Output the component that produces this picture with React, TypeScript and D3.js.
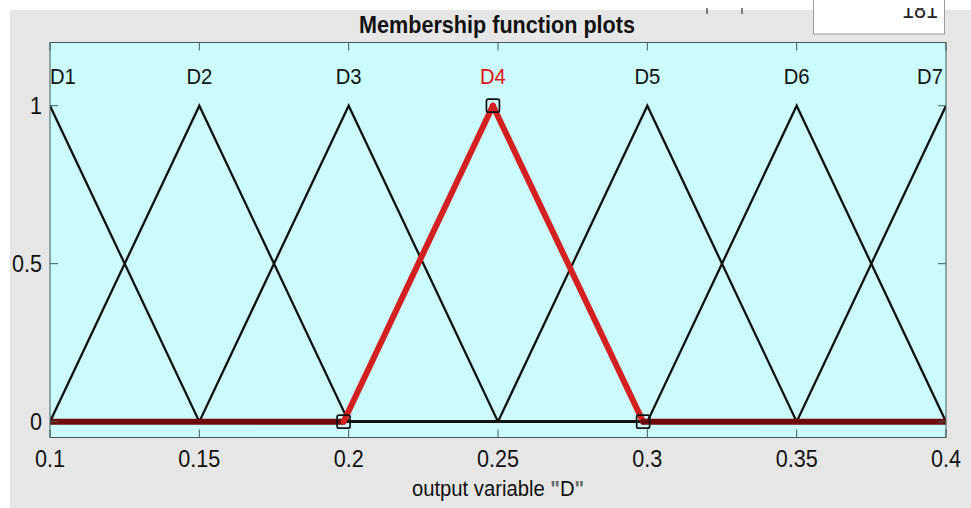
import React from "react";
import * as d3 from "d3";

// Output variable "D": seven triangular membership functions [a, b, c]
const mfNames = ["D1", "D2", "D3", "D4", "D5", "D6", "D7"];
const mfParams: number[][] = [
  [0.05, 0.1, 0.15],
  [0.1, 0.15, 0.2],
  [0.15, 0.2, 0.25],
  [0.1983, 0.2483, 0.2986],
  [0.25, 0.3, 0.35],
  [0.3, 0.35, 0.4],
  [0.35, 0.4, 0.45],
];
const selectedIndex = 3;

const xRange = [0.1, 0.4];
const yRange = [-0.05, 1.2];
const xTicks = [0.1, 0.15, 0.2, 0.25, 0.3, 0.35, 0.4];
const xTickLabels = ["0.1", "0.15", "0.2", "0.25", "0.3", "0.35", "0.4"];
const yTicks = [0, 0.5, 1];
const yTickLabels = ["0", "0.5", "1"];

const W = 971;
const H = 508;
const plot = { left: 50, right: 946, top: 42.5, bottom: 437.5 };

const FONT = "'Liberation Sans', Arial, Helvetica, sans-serif";
const AXIS_COLOR = "#3d5c5c";
const SQUEEZE = 0.9; // slightly condensed text, like the GUI font

function trimf(x: number, [a, b, c]: number[]) {
  if (x <= a || x >= c) return 0;
  if (x <= b) return b === a ? 1 : (x - a) / (b - a);
  return c === b ? 1 : (c - x) / (c - b);
}

function mfPoints(p: number[]): [number, number][] {
  const xs = [xRange[0], ...p, xRange[1]]
    .filter((v) => v >= xRange[0] && v <= xRange[1])
    .sort((u, v) => u - v);
  const uniq = xs.filter((v, i) => i === 0 || v !== xs[i - 1]);
  return uniq.map((x) => [x, trimf(x, p)]);
}

function Label(props: {
  x: number;
  y: number;
  anchor?: "start" | "middle" | "end";
  size: number;
  fill?: string;
  weight?: string;
  dy?: string;
  children: React.ReactNode;
}) {
  const { x, y, anchor = "middle", size, fill = "#111", weight, dy, children } = props;
  return (
    <g transform={`translate(${x},${y}) scale(${SQUEEZE},1)`}>
      <text
        x={0}
        y={0}
        dy={dy}
        textAnchor={anchor}
        fontSize={size}
        fontWeight={weight}
        fill={fill}
      >
        {children}
      </text>
    </g>
  );
}

export default function App() {
  const x = d3.scaleLinear().domain(xRange).range([plot.left, plot.right]);
  const y = d3.scaleLinear().domain(yRange).range([plot.bottom, plot.top]);
  const line = d3
    .line<[number, number]>()
    .x((d) => x(d[0]))
    .y((d) => y(d[1]));

  const tickLen = 8;
  const sel = mfParams[selectedIndex];
  const selPts = mfPoints(sel);
  // split the selected curve into its zero-level parts and its raised part
  const selSegments: { pts: [number, number][]; zero: boolean }[] = [];
  for (let i = 0; i < selPts.length - 1; i++) {
    const a = selPts[i];
    const b = selPts[i + 1];
    selSegments.push({ pts: [a, b], zero: a[1] === 0 && b[1] === 0 });
  }

  return (
    <svg
      width={W}
      height={H}
      style={{ position: "absolute", left: 0, top: 0, display: "block" }}
      fontFamily={FONT}
    >
      <defs>
        <clipPath id="plotClip">
          <rect
            x={plot.left}
            y={plot.top}
            width={plot.right - plot.left}
            height={plot.bottom - plot.top}
          />
        </clipPath>
        <clipPath id="boxClip">
          <rect x={813} y={8} width={133} height={30} />
        </clipPath>
      </defs>
      <rect x={0} y={0} width={W} height={H} fill="#ffffff" />
      <rect x={10} y={10} width={W - 10} height={H - 10} fill="#e6e6e6" />

      {/* range edit box (its upper part scrolled out of view) */}
      <rect x={813.5} y={-1} width={131} height={35} fill="#ffffff" stroke="#9a9a9a" strokeWidth={1} />
      <g clipPath="url(#boxClip)">
        <Label x={938} y={18} anchor="end" size={24} fill="#222">
          181
        </Label>
      </g>
      <line x1={707} x2={707} y1={8} y2={14} stroke="#555" strokeWidth={1.5} />
      <line x1={742} x2={742} y1={8} y2={14} stroke="#555" strokeWidth={1.5} />

      {/* title */}
      <Label x={(plot.left + plot.right) / 2 - 1} y={33} size={24} weight="bold">
        Membership function plots
      </Label>

      {/* axes background */}
      <rect
        x={plot.left}
        y={plot.top}
        width={plot.right - plot.left}
        height={plot.bottom - plot.top}
        fill="#ccfbfb"
      />

      {/* membership function curves */}
      <g clipPath="url(#plotClip)">
        {mfParams.map((p, i) =>
          i === selectedIndex ? null : (
            <path
              key={mfNames[i]}
              d={line(mfPoints(p)) || ""}
              fill="none"
              stroke="#111"
              strokeWidth={2.3}
              strokeLinejoin="miter"
            />
          )
        )}
        {selSegments.map((s, i) => (
          <path
            key={"sel" + i}
            d={line(s.pts) || ""}
            fill="none"
            stroke={s.zero ? "#6e0a0a" : "#d42020"}
            strokeWidth={6}
            strokeLinecap="round"
            strokeLinejoin="round"
          />
        ))}
      </g>

      {/* vertex handles of the selected function */}
      {sel.map((v, i) => (
        <rect
          key={"h" + i}
          x={x(v) - 6.5}
          y={y(trimf(v, sel) || (i === 1 ? 1 : 0)) - 6.5}
          width={13}
          height={13}
          rx={2}
          fill="none"
          stroke="#111"
          strokeWidth={1.7}
        />
      ))}

      {/* function labels */}
      {mfParams.map((p, i) => {
        const px = p[1];
        const anchor =
          px <= xRange[0] ? "start" : px >= xRange[1] ? "end" : "middle";
        const dx = anchor === "end" ? -3 : 0;
        return (
          <Label
            key={"lab" + i}
            x={x(Math.min(Math.max(px, xRange[0]), xRange[1])) + dx}
            y={y(1.07)}
            anchor={anchor}
            size={22.5}
            fill={i === selectedIndex ? "#e01010" : "#111"}
          >
            {mfNames[i]}
          </Label>
        );
      })}

      {/* axes frame and ticks */}
      <rect
        x={plot.left}
        y={plot.top}
        width={plot.right - plot.left}
        height={plot.bottom - plot.top}
        fill="none"
        stroke={AXIS_COLOR}
        strokeWidth={1}
      />
      {xTicks.map((t) => (
        <g key={"xt" + t}>
          <line x1={x(t)} x2={x(t)} y1={plot.bottom} y2={plot.bottom - tickLen} stroke={AXIS_COLOR} />
          <line x1={x(t)} x2={x(t)} y1={plot.top} y2={plot.top + tickLen} stroke={AXIS_COLOR} />
        </g>
      ))}
      {yTicks.map((t) => (
        <g key={"yt" + t}>
          <line x1={plot.left} x2={plot.left + tickLen} y1={y(t)} y2={y(t)} stroke={AXIS_COLOR} />
          <line x1={plot.right} x2={plot.right - tickLen} y1={y(t)} y2={y(t)} stroke={AXIS_COLOR} />
        </g>
      ))}

      {/* tick labels */}
      {xTicks.map((t, i) => (
        <Label key={"xl" + t} x={x(t)} y={467} size={24}>
          {xTickLabels[i]}
        </Label>
      ))}
      {yTicks.map((t, i) => (
        <Label key={"yl" + t} x={42} y={y(t)} dy="0.36em" anchor="end" size={24}>
          {yTickLabels[i]}
        </Label>
      ))}

      {/* axis title */}
      <Label x={(plot.left + plot.right) / 2} y={496} size={22.5}>
        output variable <tspan fill="#6a6a6a" fontWeight="bold">"</tspan>D
        <tspan fill="#6a6a6a" fontWeight="bold">"</tspan>
      </Label>
    </svg>
  );
}
